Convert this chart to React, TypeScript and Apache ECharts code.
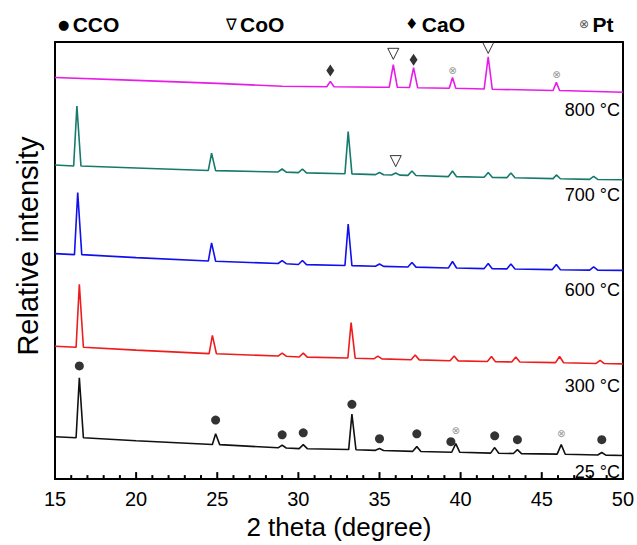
import React, { useEffect, useRef } from "react";
import * as echarts from "echarts";

const FONT = "'Liberation Sans', Arial, sans-serif";

const X_TICKS = [15, 20, 25, 30, 35, 40, 45, 50];
const X_ALL_TICKS = [
  15, 16, 17, 18, 19, 20, 21, 22, 23, 24, 25, 26, 27, 28, 29, 30, 31, 32,
  33, 34, 35, 36, 37, 38, 39, 40, 41, 42, 43, 44, 45, 46, 47, 48, 49, 50,
];

// Offset patterns (2θ, stacked relative intensity)
const T800: [number, number][] = [
  [15, 408], [20, 405], [25, 402], [29, 399], [31.75, 398.5], [31.97, 404], [32.2, 398.5],
  [35, 398], [35.6, 398], [35.85, 421], [36.1, 398], [36.85, 397.8], [37.1, 418], [37.35, 397.6],
  [39.3, 397], [39.5, 408], [39.7, 397], [41.45, 396.2], [41.7, 429], [41.95, 396],
  [45.7, 394.8], [45.9, 403], [46.1, 394.7], [50, 393],
];
const T700: [number, number][] = [
  [15, 319], [16.15, 318], [16.35, 379], [16.6, 318], [20, 316], [24.45, 313.5], [24.65, 331], [24.9, 313.3],
  [28.75, 312], [29.0, 315], [29.25, 311.8], [30.0, 311.3], [30.25, 315], [30.5, 311.1],
  [32.87, 310.2], [33.07, 353], [33.3, 310], [34.75, 309.3], [35.0, 311.5], [35.25, 309.2],
  [35.75, 308.9], [36.0, 311], [36.25, 308.8], [36.75, 308.5], [37.0, 313], [37.25, 308.4],
  [39.25, 307.3], [39.5, 313], [39.75, 307.2], [41.45, 306.6], [41.7, 311.5], [41.95, 306.5],
  [42.85, 306.2], [43.1, 311], [43.35, 306.1], [45.7, 305.2], [45.9, 309], [46.15, 305.1],
  [47.95, 304.5], [48.2, 307.5], [48.45, 304.4], [50, 304],
];
const T600: [number, number][] = [
  [15, 229], [16.2, 228], [16.4, 291], [16.65, 228], [20, 225], [24.45, 221.5], [24.65, 240], [24.9, 221.3],
  [28.75, 219], [29.0, 222], [29.25, 218.8], [30.0, 218], [30.25, 222], [30.5, 217.9],
  [32.87, 217], [33.07, 259], [33.3, 216.8], [34.75, 216.2], [35.0, 218.5], [35.25, 216.1],
  [36.75, 215.4], [37.0, 220], [37.25, 215.3], [39.25, 214.5], [39.5, 221], [39.75, 214.4],
  [41.45, 213.8], [41.7, 219], [41.95, 213.7], [42.85, 213.5], [43.1, 218.5], [43.35, 213.4],
  [45.65, 212.8], [45.9, 218], [46.15, 212.7], [47.95, 212.3], [48.2, 215.5], [48.45, 212.2], [50, 212],
];
const T300: [number, number][] = [
  [15, 135], [16.3, 134], [16.5, 198], [16.75, 134], [20, 131], [24.5, 127.5], [24.7, 146], [24.95, 127.3],
  [28.75, 125], [29.0, 128], [29.25, 124.8], [30.05, 124], [30.3, 128], [30.55, 123.9],
  [33.05, 123], [33.25, 159], [33.5, 122.8], [34.65, 122.2], [34.9, 125], [35.15, 122.1],
  [36.95, 121.2], [37.2, 126], [37.45, 121.1], [39.35, 120.2], [39.6, 125], [39.85, 120.1],
  [41.65, 119.4], [41.9, 124.5], [42.15, 119.3], [43.15, 119], [43.4, 124], [43.65, 118.9],
  [45.85, 118.3], [46.1, 124.5], [46.35, 118.2], [48.35, 117.5], [48.6, 120.5], [48.85, 117.4], [50, 117],
];
const T25: [number, number][] = [
  [15, 43], [16.3, 42], [16.5, 103], [16.75, 42], [20, 39], [24.7, 35.2], [24.9, 46], [25.15, 35],
  [28.75, 31.8], [29.0, 34.5], [29.25, 31.6], [30.05, 31], [30.3, 35], [30.55, 30.9],
  [33.1, 30], [33.3, 66], [33.55, 29.8], [34.75, 29.2], [35.0, 31], [35.25, 29.1],
  [37.05, 28.2], [37.3, 33], [37.55, 28.1], [39.45, 27.3], [39.7, 36], [39.95, 27.2],
  [41.85, 26.4], [42.1, 32], [42.35, 26.3], [43.25, 26], [43.5, 30], [43.75, 25.9],
  [45.95, 25.4], [46.2, 35], [46.45, 25.3], [48.45, 24.5], [48.7, 27], [48.95, 24.4], [50, 24],
];

// Phase markers
const CCO_MARKS: [number, number][] = [
  [16.5, 115], [24.9, 60], [29.0, 45], [30.3, 47], [33.3, 76], [35.0, 41],
  [37.3, 46], [39.4, 38], [42.1, 44], [43.5, 40], [48.7, 40],
];
const COO_MARKS: [number, number][] = [[35.85, 432], [41.7, 438], [36.0, 323]];
const CAO_MARKS: [number, number][] = [[31.97, 415], [37.1, 426]];
const PT_MARKS: [number, number][] = [[39.5, 415], [45.9, 411], [39.7, 49], [46.2, 46]];

const SERIES_NAMES = ["800 °C", "700 °C", "600 °C", "300 °C", "25 °C"];
const SERIES_DATA = [T800, T700, T600, T300, T25];
const SERIES_COLORS = ["#e81ce8", "#157a6c", "#1010ee", "#ee1c1c", "#111111"];
const LABEL_Y = [110, 195, 290, 386, 472];

const legendItem = (x: number, sym: string, symSize: number, symColor: string, name: string) => ({
  type: "text",
  x,
  y: 24,
  style: {
    text: `{s|${sym}} {b|${name}}`,
    verticalAlign: "middle",
    rich: {
      s: { fontSize: symSize, fontFamily: "'DejaVu Sans', sans-serif", fill: symColor },
      b: { fontSize: 21, fontWeight: "bold", fontFamily: FONT, fill: "#000" },
    },
  },
});

export default function App() {
  const ref = useRef<HTMLDivElement>(null);
  useEffect(() => {
    if (!ref.current) return;
    const chart = echarts.init(ref.current, undefined, { renderer: "svg" });
    const lineSeries = SERIES_DATA.map((d, i) => ({
      name: SERIES_NAMES[i],
      type: "line",
      data: d,
      symbol: "none",
      lineStyle: { color: SERIES_COLORS[i], width: 1.6 },
    }));
    const hiddenAxisParts = {
      axisTick: { show: false },
      axisLabel: { show: false },
      splitLine: { show: false },
    };
    const option: any = {
      animation: false,
      grid: { left: 55, right: 13, top: 42, bottom: 59 },
      xAxis: [
        {
          type: "value",
          min: X_TICKS[0],
          max: X_TICKS[X_TICKS.length - 1],
          interval: 5,
          name: "2 theta (degree)",
          nameLocation: "middle",
          nameGap: 32,
          nameTextStyle: { fontSize: 26, fontFamily: FONT, color: "#000" },
          axisLine: { show: true, onZero: false, lineStyle: { color: "#000", width: 2 } },
          axisTick: { show: false },
          minorTick: { show: false },
          axisLabel: { fontSize: 20, margin: 10, color: "#000", fontFamily: FONT },
          splitLine: { show: false },
        },
        {
          type: "value",
          position: "top",
          min: X_TICKS[0],
          max: X_TICKS[X_TICKS.length - 1],
          axisLine: { show: true, onZero: false, lineStyle: { color: "#000", width: 2 } },
          ...hiddenAxisParts,
        },
      ],
      yAxis: [
        {
          type: "value",
          min: 0,
          max: 444,
          axisLine: { show: true, lineStyle: { color: "#000", width: 2 } },
          ...hiddenAxisParts,
        },
        {
          type: "value",
          position: "right",
          min: 0,
          max: 444,
          axisLine: { show: true, onZero: false, lineStyle: { color: "#000", width: 2 } },
          ...hiddenAxisParts,
        },
      ],
      series: [
        ...lineSeries,
        {
          type: "custom",
          silent: true,
          clip: false,
          z: 10,
          data: X_ALL_TICKS.map((v) => [v, 0]),
          encode: { x: 0, y: 1 },
          renderItem: (params: any, api: any) => {
            const v = api.value(0);
            const p = api.coord([v, 0]);
            const len = v % 5 === 0 ? 7 : 4;
            return {
              type: "line",
              shape: { x1: p[0], y1: p[1], x2: p[0], y2: p[1] - len },
              style: { stroke: "#000", lineWidth: 2 },
            };
          },
        },
        {
          type: "scatter",
          data: CCO_MARKS,
          symbol: "circle",
          symbolSize: 9,
          itemStyle: { color: "#000" },
        },
        {
          type: "scatter",
          data: COO_MARKS,
          symbol: "triangle",
          symbolRotate: 180,
          symbolSize: [11, 11],
          itemStyle: { color: "#fff", borderColor: "#000", borderWidth: 1 },
        },
        {
          type: "scatter",
          data: CAO_MARKS,
          symbol: "diamond",
          symbolSize: [8, 12],
          itemStyle: { color: "#000" },
        },
        {
          type: "scatter",
          data: PT_MARKS,
          symbol: "circle",
          symbolSize: 1,
          itemStyle: { color: "rgba(0,0,0,0)" },
          label: {
            show: true,
            position: "inside",
            formatter: "⊗",
            fontSize: 10,
            color: "#777",
            fontFamily: "'DejaVu Sans', sans-serif",
          },
        },
      ],
      graphic: [
        {
          type: "text",
          x: 28,
          y: 246,
          rotation: Math.PI / 2,
          style: {
            text: "Relative intensity",
            align: "center",
            verticalAlign: "middle",
            fontSize: 29,
            fontFamily: FONT,
            fill: "#000",
          },
        },
        legendItem(58, "●", 13, "#000", "CCO"),
        legendItem(226, "∇", 16, "#000", "CoO"),
        legendItem(405, "♦", 15, "#000", "CaO"),
        legendItem(579, "⊗", 12, "#555", "Pt"),
        ...SERIES_NAMES.map((n, i) => ({
          type: "text",
          x: 620,
          y: LABEL_Y[i],
          style: {
            text: n,
            align: "right",
            verticalAlign: "middle",
            fontSize: 18,
            fontFamily: FONT,
            fill: "#000",
          },
        })),
      ],
    };
    chart.setOption(option);
    return () => chart.dispose();
  }, []);
  return (
    <div
      ref={ref}
      style={{ position: "fixed", left: 0, top: 0, width: 637, height: 545, background: "#fff" }}
    />
  );
}
